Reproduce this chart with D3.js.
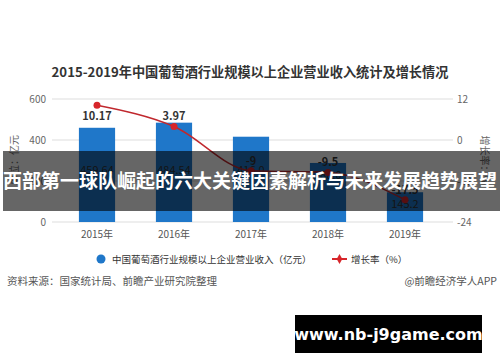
<!DOCTYPE html>
<html lang="zh">
<head>
<meta charset="UTF-8">
<title>葡萄酒行业营业收入</title>
<script src="https://d3js.org/d3.v7.min.js"></script>
<style>
  body { margin: 0; background: #fff; }
  svg { display: block; font-family: "Noto Sans CJK SC", "Noto Sans", sans-serif; }
</style>
</head>
<body>
<svg width="500" height="362"></svg>
<script>
// data
const years = ["2015年", "2016年", "2017年", "2018年", "2019年"];
const revenue = [459.64, 484.54, 416.0, 288.0, 145.2];
const revenueLabels = ["459.64", "484.54", "416.0", "288.0", "145.2"];
const growth = [10.17, 3.97, -9, -9.5, -17.5];
const growthLabels = ["10.17", "3.97", "-9", "-9.5", "-17.5"];
const leftTicks = [0, 200, 400, 600];
const rightTicks = [-24, -12, 0, 12];

const svg = d3.select("svg");
const plotLeft = 52, plotRight = 453, plotTop = 99, plotBottom = 222;

const x = d3.scaleBand().domain(years).range([58.5, 443.5]).paddingInner(0.53).paddingOuter(0.265);
const yL = d3.scaleLinear().domain([0, 600]).range([plotBottom, plotTop]);
const yR = d3.scaleLinear().domain([-24, 12]).range([plotBottom, plotTop]);
const cx = d => x(d) + x.bandwidth() / 2;

// title
svg.append("text")
    .attr("x", 250).attr("y", 77)
    .attr("text-anchor", "middle")
    .attr("font-size", 13.2).attr("font-weight", "bold").attr("fill", "#333")
    .text("2015-2019年中国葡萄酒行业规模以上企业营业收入统计及增长情况");

// gridlines
svg.append("g").selectAll("line")
    .data(leftTicks)
    .join("line")
    .attr("x1", plotLeft).attr("x2", plotRight)
    .attr("y1", d => yL(d)).attr("y2", d => yL(d))
    .attr("stroke", "#ddd").attr("stroke-width", 1);

// left ticks
svg.append("g").selectAll("text")
    .data(leftTicks)
    .join("text")
    .attr("x", 46).attr("y", d => yL(d) + 3.5)
    .attr("text-anchor", "end").attr("font-size", 10).attr("fill", "#666")
    .text(d => d);

// right ticks
svg.append("g").selectAll("text")
    .data(rightTicks)
    .join("text")
    .attr("x", 457).attr("y", d => yR(d) + 3.5)
    .attr("text-anchor", "start").attr("font-size", 10).attr("fill", "#666")
    .text(d => d);

// axis titles
svg.append("text")
    .attr("transform", "translate(18,160) rotate(-90)")
    .attr("text-anchor", "middle").attr("font-size", 10).attr("fill", "#666")
    .text("单位：亿元");
svg.append("text")
    .attr("transform", "translate(481,160) rotate(90)")
    .attr("text-anchor", "middle").attr("font-size", 10).attr("fill", "#666")
    .text("增长率：%");

// x labels
svg.append("g").selectAll("text")
    .data(years)
    .join("text")
    .attr("x", d => cx(d)).attr("y", 238)
    .attr("text-anchor", "middle").attr("font-size", 10).attr("fill", "#555")
    .text(d => d);

// bars
svg.append("g").selectAll("rect")
    .data(revenue)
    .join("rect")
    .attr("x", (d, i) => x(years[i]))
    .attr("y", d => yL(d))
    .attr("width", x.bandwidth())
    .attr("height", d => yL(0) - yL(d))
    .attr("fill", "#1f77c9");

// bar labels
svg.append("g").selectAll("text")
    .data(revenue)
    .join("text")
    .attr("x", (d, i) => cx(years[i]))
    .attr("y", d => Math.max(yL(235), yL(d) + 16))
    .attr("text-anchor", "middle").attr("font-size", 11).attr("fill", "#333")
    .text((d, i) => revenueLabels[i]);

// growth line
const line = d3.line()
    .x((d, i) => cx(years[i]))
    .y(d => yR(d))
    .curve(d3.curveMonotoneX);
svg.append("path")
    .datum(growth)
    .attr("d", line)
    .attr("fill", "none").attr("stroke", "#c0282e").attr("stroke-width", 1.5);
svg.append("g").selectAll("circle")
    .data(growth)
    .join("circle")
    .attr("cx", (d, i) => cx(years[i]))
    .attr("cy", d => yR(d))
    .attr("r", 3.5)
    .attr("fill", "#d7262b");
svg.append("g").selectAll("text")
    .data(growth)
    .join("text")
    .attr("x", (d, i) => cx(years[i]))
    .attr("y", d => yR(d) - 14 < plotTop ? yR(d) + 15 : yR(d) - 6)
    .attr("text-anchor", "middle").attr("font-size", 11).attr("font-weight", "bold").attr("fill", "#333")
    .text((d, i) => growthLabels[i]);

// legend
const lg = svg.append("g");
lg.append("circle").attr("cx", 101).attr("cy", 259).attr("r", 4.5).attr("fill", "#1f77c9");
lg.append("text").attr("x", 112).attr("y", 262.5).attr("font-size", 9.5).attr("fill", "#333")
    .text("中国葡萄酒行业规模以上企业营业收入（亿元）");
lg.append("line").attr("x1", 332).attr("x2", 347).attr("y1", 259).attr("y2", 259)
    .attr("stroke", "#d7262b").attr("stroke-width", 2);
lg.append("path").attr("d", d3.symbol(d3.symbolDiamond, 28)()).attr("transform", "translate(339.5,259)")
    .attr("fill", "#d7262b");
lg.append("text").attr("x", 351).attr("y", 262.5).attr("font-size", 9.5).attr("fill", "#333")
    .text("增长率（%）");

// source
svg.append("text").attr("x", 7).attr("y", 285).attr("font-size", 10.5).attr("fill", "#555")
    .text("资料来源：国家统计局、前瞻产业研究院整理");
svg.append("text").attr("x", 497).attr("y", 285).attr("text-anchor", "end").attr("font-size", 10.5).attr("fill", "#555")
    .text("@前瞻经济学人APP");

// banner overlay
svg.append("rect").attr("x", 3).attr("y", 151).attr("width", 497).attr("height", 60)
    .attr("fill", "#000").attr("fill-opacity", 0.6);
svg.append("text").attr("x", 250).attr("y", 188)
    .attr("text-anchor", "middle").attr("font-size", 19).attr("font-weight", "bold").attr("fill", "#fff")
    .text("西部第一球队崛起的六大关键因素解析与未来发展趋势展望");

// footer box
svg.append("rect").attr("x", 295).attr("y", 315).attr("width", 187).attr("height", 38).attr("fill", "#000");
svg.append("text").attr("x", 388.5).attr("y", 339.5)
    .attr("text-anchor", "middle").attr("font-size", 16).attr("font-weight", "bold").attr("fill", "#fff")
    .attr("font-family", "'DejaVu Sans', sans-serif")
    .text("www.nb-j9game.com");
</script>
</body>
</html>
